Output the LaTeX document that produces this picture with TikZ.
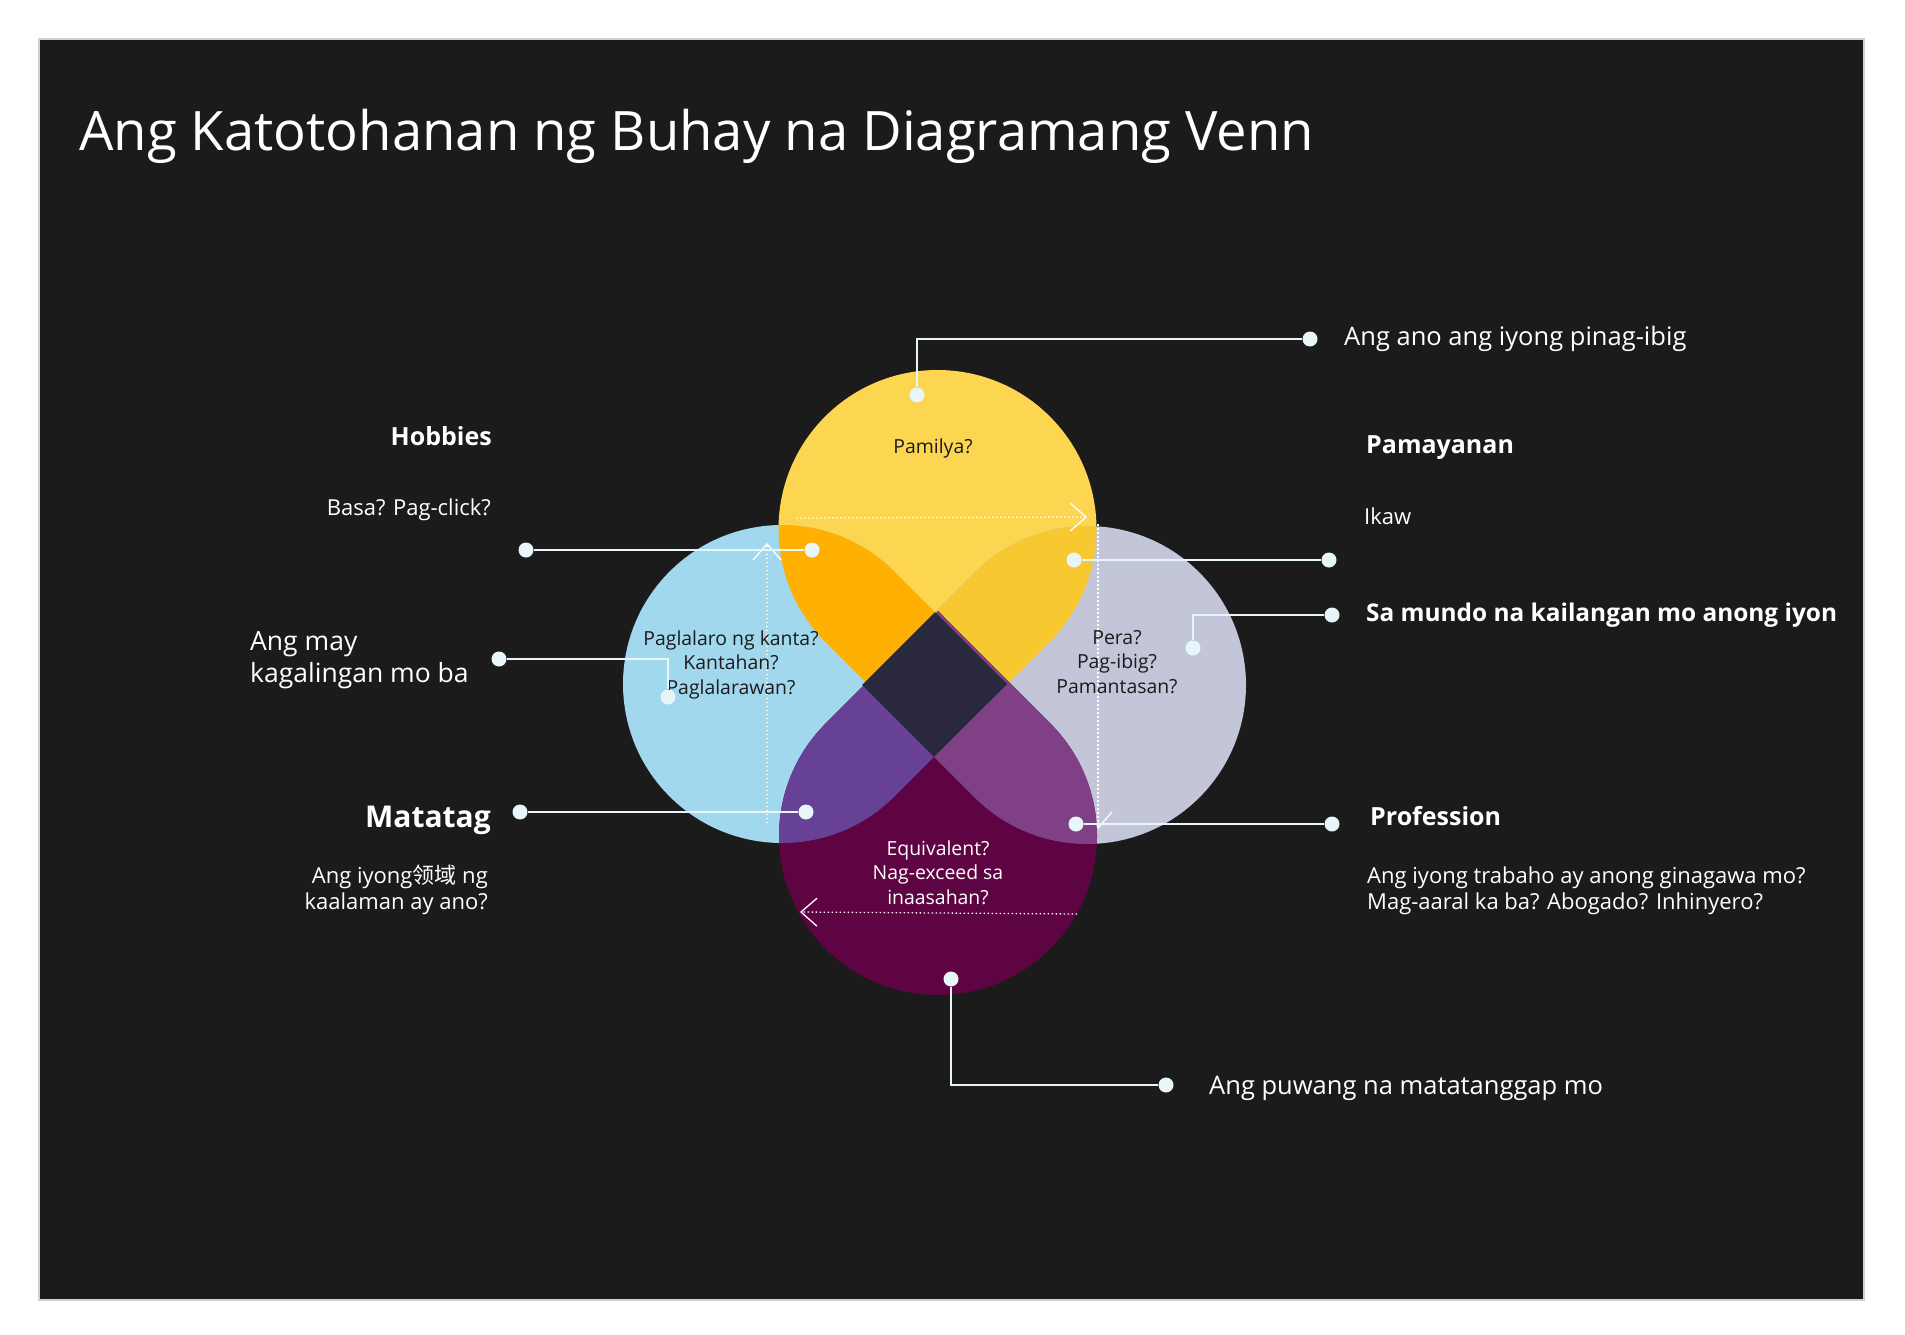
\documentclass[tikz,border=0pt]{standalone}
\usepackage{fontspec}
\setmainfont{Open Sans}
\newfontfamily\cjk{Noto Sans CJK SC}
\usetikzlibrary{calc,arrows.meta}

\definecolor{panel}{HTML}{1B1B1B}
\definecolor{yel}{HTML}{FCD650}
\definecolor{blu}{HTML}{A2D8EE}
\definecolor{gry}{HTML}{C3C5D8}
\definecolor{mar}{HTML}{5E0443}
\definecolor{orng}{HTML}{FFB000}
\definecolor{lorng}{HTML}{F7C830}
\definecolor{purp}{HTML}{664196}
\definecolor{magp}{HTML}{7F4085}
\definecolor{dia}{HTML}{29283F}
\definecolor{pin}{HTML}{E8F6FA}

% teardrop petal: circle centre, direction of the tip
\newcommand{\petal}[2]{($(#1)+(#2:225)$) -- ($(#1)+(#2+45:159)$) arc[start angle=#2+45, end angle=#2+315, radius=159] -- cycle}

\begin{document}
\begin{tikzpicture}[x=1pt, y=-1pt,
	dot/.style={circle, fill=pin, inner sep=0pt, minimum size=15},
	pinline/.style={draw=pin, line width=2.5},
	flowarrow/.style={draw=white, line width=1.3, dash pattern=on 1.5pt off 2.5pt, -{Straight Barb[length=16,width=28]}},
	headtxt/.style={text=white, inner sep=0pt, font=\fontsize{25}{30}\selectfont\bfseries},
	subtxt/.style={text=white, inner sep=0pt, font=\fontsize{22}{26}\selectfont},
	bigtxt/.style={text=white, inner sep=0pt, font=\fontsize{25.5}{32}\selectfont},
	petaltxt/.style={text=panel, inner sep=0pt, align=center, font=\fontsize{19.4}{24.5}\selectfont}]
	\fill[white] (0,0) rectangle (1905,1335);
	\filldraw[fill=panel, draw=black!18, line width=1.5] (39,39) rectangle (1864,1300);
	\node[text=white, anchor=base west, inner sep=0pt, font=\fontsize{54.4}{66}\selectfont] (title) at (79,150) {Ang Katotohanan ng Buhay na Diagramang Venn};

	% petals
	\coordinate (cy) at (937.5,529);
	\coordinate (cb) at (782,684);
	\coordinate (cg) at (1087,685);
	\coordinate (cm) at (938,836);
	\fill[yel] \petal{cy}{90};
	\fill[blu] \petal{cb}{0};
	\fill[gry] \petal{cg}{180};
	\fill[mar] \petal{cm}{270};

	\coordinate (rtop) at (1098,524);
	\coordinate (rbot) at (1098,829);
	\draw[flowarrow] (rtop) -- (rbot);

	\begin{scope}
		\clip \petal{cy}{90};
		\fill[orng] \petal{cb}{0};
		\fill[lorng] \petal{cg}{180};
		\fill[dia] \petal{cm}{270};
	\end{scope}
	\begin{scope}
		\clip \petal{cm}{270};
		\fill[purp] \petal{cb}{0};
		\fill[magp] \petal{cg}{180};
	\end{scope}
	\begin{scope}
		\clip \petal{cb}{0};
		\fill[dia] \petal{cg}{180};
	\end{scope}

	\coordinate (ttop1) at (796,518);
	\coordinate (ttop2) at (1087,517);
	\coordinate (lbot) at (767,823);
	\coordinate (ltop) at (767,543);
	\coordinate (bbot1) at (1077,914);
	\coordinate (bbot2) at (800,912);
	\draw[flowarrow] (ttop1) -- (ttop2);
	\draw[flowarrow] (bbot1) -- (bbot2);
	\draw[flowarrow] (lbot) -- (ltop);

	% texts in the petals
	\node[petaltxt, anchor=base] (pamilya) at (933,453) {Pamilya?};
	\node[petaltxt, anchor=base] (kanta) at (731,694) {Paglalaro ng kanta?\\Kantahan?\\Paglalarawan?};
	\node[petaltxt, anchor=base] (pera) at (1117,693) {Pera?\\Pag-ibig?\\Pamantasan?};
	\node[petaltxt, anchor=base, text=white] (equiv) at (938,904) {Equivalent?\\Nag-exceed sa\\inaasahan?};

	% callouts
	\node[dot] (lovedot) at (917,395) {};
	\node[dot] (loveend) at (1310,339) {};
	\draw[pinline] (lovedot) |- (loveend);
	\node[bigtxt, anchor=base west] (love) at (1344,345) {Ang ano ang iyong pinag-ibig};

	\node[dot] (hobdot) at (812,550) {};
	\node[dot] (hobend) at (526,550) {};
	\draw[pinline] (hobdot) -- (hobend);
	\node[headtxt, anchor=base east] (hobbies) at (492,445) {Hobbies};
	\node[subtxt, anchor=base east] (basa) at (491,515) {Basa? Pag-click?};

	\node[dot] (kagdot) at (668,697) {};
	\node[dot] (kagend) at (499,659) {};
	\draw[pinline] (kagdot) |- (kagend);
	\node[bigtxt, anchor=base west, align=left, font=\fontsize{26.5}{32}\selectfont] (kagaling) at (250,682) {Ang may\\kagalingan mo ba};

	\node[dot] (matdot) at (806,812) {};
	\node[dot] (matend) at (520,812) {};
	\draw[pinline] (matdot) -- (matend);
	\node[headtxt, anchor=base east, font=\fontsize{30}{36}\selectfont\bfseries] (matatag) at (491,827) {Matatag};
	\node[subtxt, anchor=base east, align=right] (larangan) at (488,909) {Ang iyong{\cjk 领域} ng\\kaalaman ay ano?};

	\node[dot] (puwdot) at (951,979) {};
	\node[dot] (puwend) at (1166,1085) {};
	\draw[pinline] (puwdot) |- (puwend);
	\node[bigtxt, anchor=base west] (puwang) at (1209,1094) {Ang puwang na matatanggap mo};

	\node[dot] (pamdot) at (1074,560) {};
	\node[dot] (pamend) at (1329,560) {};
	\draw[pinline] (pamdot) -- (pamend);
	\node[headtxt, anchor=base west] (pamayanan) at (1366,453) {Pamayanan};
	\node[subtxt, anchor=base west] (ikaw) at (1364,524) {Ikaw};

	\node[dot] (mundot) at (1193,648) {};
	\node[dot] (munend) at (1332,615) {};
	\draw[pinline] (mundot) |- (munend);
	\node[headtxt, anchor=base west, font=\fontsize{24.4}{30}\selectfont\bfseries] (mundo) at (1366,621) {Sa mundo na kailangan mo anong iyon};

	\node[dot] (profdot) at (1076,824) {};
	\node[dot] (profend) at (1332,824) {};
	\draw[pinline] (profdot) -- (profend);
	\node[headtxt, anchor=base west] (profession) at (1370,825) {Profession};
	\node[subtxt, anchor=base west, align=left] (trabaho) at (1367,909) {Ang iyong trabaho ay anong ginagawa mo?\\Mag-aaral ka ba? Abogado? Inhinyero?};
\end{tikzpicture}
\end{document}
